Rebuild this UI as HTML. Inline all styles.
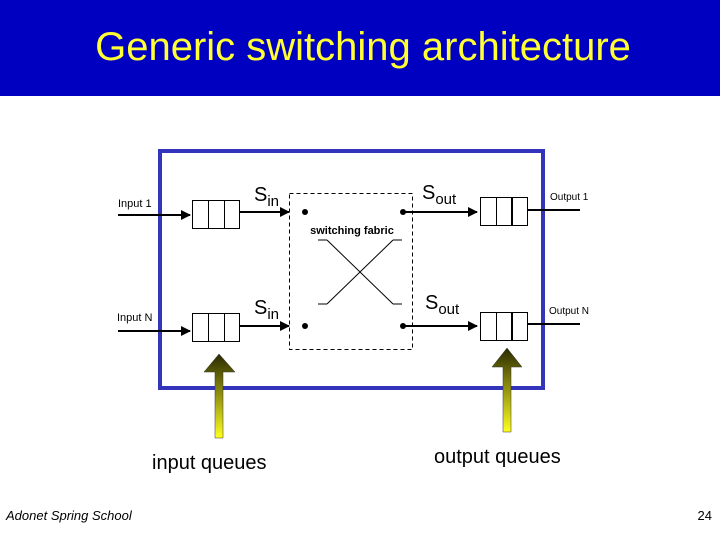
<!DOCTYPE html>
<html><head><meta charset="utf-8"><style>
body{margin:0;width:720px;height:540px;overflow:hidden;background:#fff;font-family:"Liberation Sans",sans-serif;}
</style></head><body>
<svg width="720" height="540" xmlns="http://www.w3.org/2000/svg" font-family="Liberation Sans, sans-serif">
<defs>
<linearGradient id="g" x1="0" y1="0" x2="0" y2="1"><stop offset="0" stop-color="#2a2a00"/><stop offset="1" stop-color="#ffff20"/></linearGradient>
<marker id="a" markerWidth="10" markerHeight="10" refX="9" refY="5" orient="auto" markerUnits="userSpaceOnUse"><path d="M0,0 L10,5 L0,10 z" fill="#000"/></marker>
</defs>
<rect x="0" y="0" width="720" height="96" fill="#0000c0"/>
<text x="363" y="60" font-size="40" fill="#ffff33" text-anchor="middle">Generic switching architecture</text>
<rect x="160" y="151" width="383" height="237" fill="none" stroke="#3333bb" stroke-width="4"/>
<rect x="289.5" y="193.5" width="123" height="156" fill="none" stroke="#000" stroke-dasharray="4,3"/>
<g stroke="#000" stroke-width="2">
<line x1="118" y1="215" x2="190" y2="215" marker-end="url(#a)"/>
<line x1="118" y1="331" x2="190" y2="331" marker-end="url(#a)"/>
<line x1="240" y1="212" x2="289" y2="212" marker-end="url(#a)"/>
<line x1="240" y1="326" x2="289" y2="326" marker-end="url(#a)"/>
<line x1="403" y1="212" x2="477" y2="212" marker-end="url(#a)"/>
<line x1="403" y1="326" x2="477" y2="326" marker-end="url(#a)"/>
<line x1="528" y1="210" x2="580" y2="210"/>
<line x1="528" y1="324" x2="580" y2="324"/>
</g>
<g fill="none" stroke="#000" stroke-width="1">
<rect x="192.5" y="200.5" width="47" height="28"/><line x1="208.5" y1="200" x2="208.5" y2="228"/><line x1="224.5" y1="200" x2="224.5" y2="228"/>
<rect x="192.5" y="313.5" width="47" height="28"/><line x1="208.5" y1="313" x2="208.5" y2="342"/><line x1="224.5" y1="313" x2="224.5" y2="342"/>
<rect x="480.5" y="197.5" width="47" height="28"/><line x1="496.5" y1="197" x2="496.5" y2="226"/><line x1="512" y1="197" x2="512" y2="226" stroke-width="2"/>
<rect x="480.5" y="312.5" width="47" height="28"/><line x1="496.5" y1="312" x2="496.5" y2="341"/><line x1="512" y1="312" x2="512" y2="341" stroke-width="2"/>
<line x1="327" y1="240" x2="393" y2="304"/><line x1="393" y1="240" x2="327" y2="304"/>
<line x1="318" y1="240" x2="327" y2="240"/><line x1="393" y1="240" x2="402" y2="240"/>
<line x1="318" y1="304" x2="327" y2="304"/><line x1="393" y1="304" x2="402" y2="304"/>
</g>
<g fill="#000"><circle cx="305" cy="212" r="3"/><circle cx="403" cy="212" r="3"/><circle cx="305" cy="326" r="3"/><circle cx="403" cy="326" r="3"/></g>
<text x="352" y="234" font-size="11" font-weight="bold" text-anchor="middle">switching fabric</text>
<g font-size="11"><text x="118" y="207">Input 1</text><text x="117" y="321">Input N</text>
<text x="550" y="200" font-size="10">Output 1</text><text x="549" y="314" font-size="10">Output N</text></g>
<g font-size="20"><text x="254" y="201">S<tspan font-size="15" dy="5">in</tspan></text>
<text x="254" y="314">S<tspan font-size="15" dy="5">in</tspan></text>
<text x="422" y="199">S<tspan font-size="15" dy="5">out</tspan></text>
<text x="425" y="309">S<tspan font-size="15" dy="5">out</tspan></text></g>
<path d="M219,354 L235,372 L223,372 L223,438 L215,438 L215,372 L204,372 z" fill="url(#g)" stroke="#333" stroke-width="0.5"/>
<path d="M507,348 L522,367 L511,367 L511,432 L503,432 L503,367 L492,367 z" fill="url(#g)" stroke="#333" stroke-width="0.5"/>
<text x="152" y="469" font-size="20">input queues</text>
<text x="434" y="463" font-size="20">output queues</text>
<text x="6" y="520" font-size="13" font-style="italic">Adonet Spring School</text>
<text x="712" y="520" font-size="13" text-anchor="end">24</text>
</svg>
</body></html>
